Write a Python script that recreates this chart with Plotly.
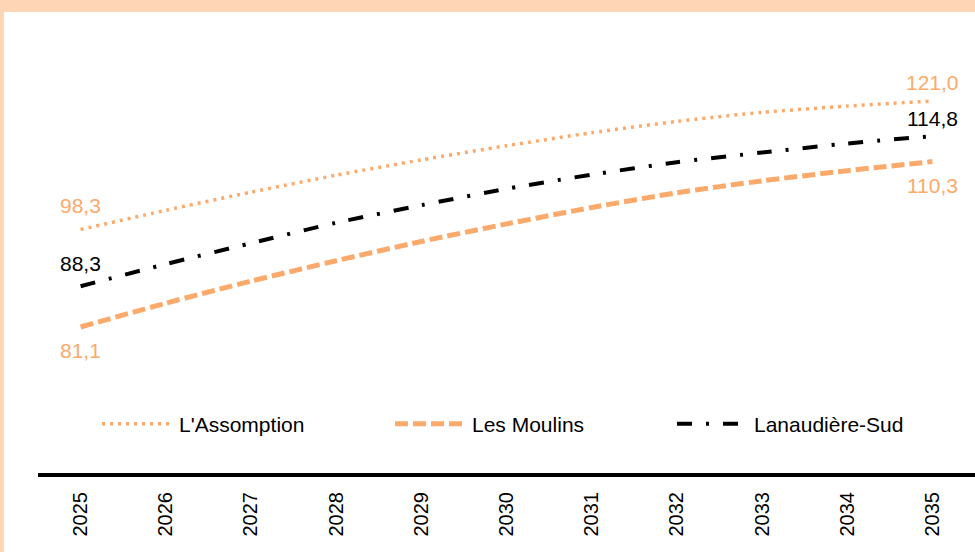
import plotly.graph_objects as go

years = [2025, 2026, 2027, 2028, 2029, 2030, 2031, 2032, 2033, 2034, 2035]
lassomption = [98.3, 101.7, 104.9, 107.9, 110.6, 113.1, 115.4, 117.4, 119.0, 120.1, 121.0]
les_moulins = [81.1, 85.3, 89.2, 92.8, 96.2, 99.3, 102.2, 104.8, 106.9, 108.7, 110.3]
lanaudiere_sud = [88.3, 92.2, 95.9, 99.5, 102.6, 105.5, 108.0, 110.2, 111.9, 113.5, 114.8]
series_names = ["L'Assomption", "Les Moulins", "Lanaudière-Sud"]

ORANGE = "#FBAA6B"
BLACK = "#000000"
PEACH = "#FED5B5"
FONT = "Liberation Sans, Arial, sans-serif"

W, H = 975, 552
ML, MR, MT, MB = 38, 0, 40, 79
PW, PH = W - ML - MR, H - MT - MB


def fmt(v):
    return f"{v:.1f}".replace(".", ",")


fig = go.Figure()

specs = [
    (lassomption, series_names[0], ORANGE, 3.5, "3px,5px", (24, 19), "legend"),
    (les_moulins, series_names[1], ORANGE, 5, "13px,5px", (-24, -24), "legend2"),
    (lanaudiere_sud, series_names[2], BLACK, 4, "15px,14px,3px,14px", (23, 18), "legend3"),
]

annotations = []
for vals, name, color, width, dash, shifts, leg in specs:
    fig.add_trace(go.Scatter(
        x=years, y=vals, name=name, mode="lines",
        line=dict(color=color, width=width, dash=dash, shape="spline", smoothing=0.6),
        legend=leg, showlegend=True, hoverinfo="skip",
    ))
    for idx, ys in ((0, shifts[0]), (len(vals) - 1, shifts[1])):
        annotations.append(dict(
            x=years[idx], y=vals[idx], xref="x", yref="y", text=fmt(vals[idx]),
            showarrow=False, yshift=ys, xanchor="center", yanchor="middle",
            font=dict(color=color, size=21, family=FONT),
        ))

leg_common = dict(orientation="h", yanchor="middle", xanchor="left", y=0.113,
                  bgcolor="rgba(0,0,0,0)", itemwidth=72,
                  font=dict(size=21, family=FONT, color="#000000"))

fig.update_layout(
    width=W, height=H,
    margin=dict(l=ML, r=MR, t=MT, b=MB),
    paper_bgcolor="white", plot_bgcolor="white",
    font=dict(family=FONT, color="#000000"),
    showlegend=True,
    legend=dict(x=(97 - ML) / PW, **leg_common),
    legend2=dict(x=(390 - ML) / PW, **leg_common),
    legend3=dict(x=(672 - ML) / PW, **leg_common),
    xaxis=dict(range=[2024.5, 2035.5], tickmode="array", tickvals=years,
               ticktext=[str(y) for y in years], tickangle=-90,
               showline=True, linecolor="#000000", linewidth=4,
               showgrid=False, zeroline=False, ticks="", ticklabelstandoff=7,
               tickfont=dict(size=20, family=FONT, color="#000000")),
    yaxis=dict(range=[55.32, 131.77], visible=False, showgrid=False, zeroline=False),
    annotations=annotations,
    shapes=[
        dict(type="rect", xref="paper", yref="paper", x0=-ML / PW, x1=1 + MR / PW + 0.01,
             y0=1 + (MT - 12) / PH, y1=1 + MT / PH + 0.01, fillcolor=PEACH, line=dict(width=0), layer="below"),
        dict(type="rect", xref="paper", yref="paper", x0=-ML / PW - 0.01, x1=(4 - ML) / PW,
             y0=-MB / PH - 0.01, y1=1 + MT / PH + 0.01, fillcolor=PEACH, line=dict(width=0), layer="below"),
    ],
)

fig.write_html("out.html", config={"displayModeBar": False},
               post_script="document.body.style.margin='0';")
